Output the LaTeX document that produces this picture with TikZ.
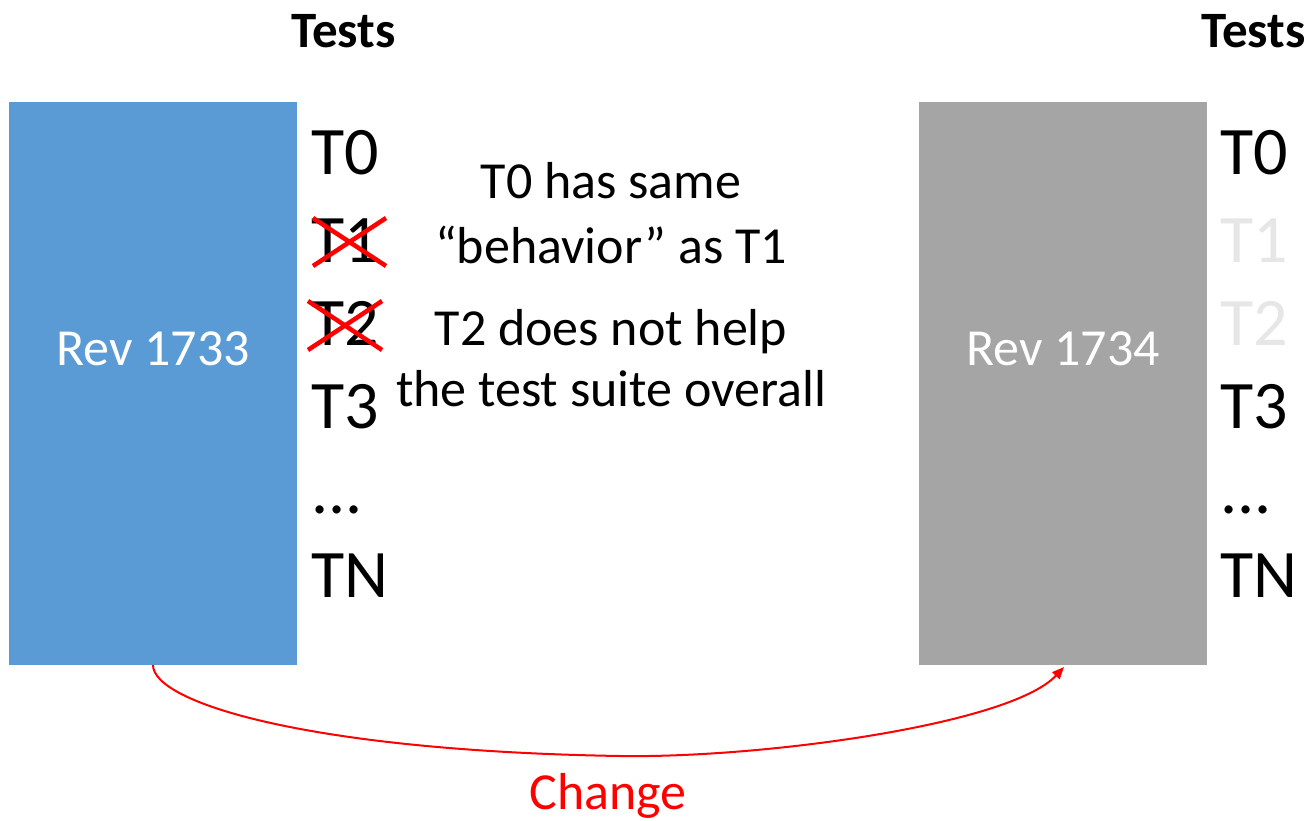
\documentclass[tikz,border=0pt]{standalone}
\usepackage{fontspec}
\setmainfont{Carlito}
\usetikzlibrary{arrows.meta}
\definecolor{revblue}{HTML}{5B9BD5}
\definecolor{revgray}{HTML}{A5A5A5}
\definecolor{faded}{HTML}{E7E6E6}
\tikzset{
  rev/.style={inner sep=0pt, minimum width=288pt, minimum height=563pt},
  revlabel/.style={anchor=base, inner sep=0pt, text=white, font=\fontsize{52}{60}\selectfont},
  testname/.style={anchor=base west, inner sep=0pt, font=\fontsize{68}{80}\selectfont},
  header/.style={anchor=base west, inner sep=0pt, font=\fontsize{51}{60}\selectfont\bfseries},
  note/.style={anchor=base, inner sep=0pt, font=\fontsize{52}{60}\selectfont},
  strike/.style={red, line width=4.5pt},
  change/.style={red, line width=2pt, -{Triangle[length=12pt,width=10pt]}}
}
\begin{document}
\begin{tikzpicture}[x=1pt,y=-1pt]
\useasboundingbox (0,0) rectangle (1314,821);

% revision boxes
\node[rev, fill=revblue] (r1) at (153,383.5) {};
\node[rev, fill=revgray] (r2) at (1063,383.5) {};
\node[revlabel] (l1) at (153,365) {Rev 1733};
\node[revlabel] (l2) at (1063,365) {Rev 1734};

% headers
\node[header] (h1) at (291,48) {Tests};
\node[header] (h2) at (1201,48) {Tests};

% tests beside the old revision
\node[testname] (a0) at (311,175) {T0};
\node[testname] (a1) at (311,262) {T1};
\node[testname] (a2) at (311,345) {T2};
\node[testname] (a3) at (311,428) {T3};
\node[testname] (a4) at (311,513) {...};
\node[testname] (a5) at (311,597) {TN};

% tests beside the new revision
\node[testname] (b0) at (1220,175) {T0};
\node[testname, text=faded] (b1) at (1220,262) {T1};
\node[testname, text=faded] (b2) at (1220,345) {T2};
\node[testname] (b3) at (1220,428) {T3};
\node[testname] (b4) at (1220,513) {...};
\node[testname] (b5) at (1220,597) {TN};

% crossed-out tests
\draw[strike] (313,218) -- (386,266);
\draw[strike] (313,266) -- (386,218);
\draw[strike] (308,301) -- (382,350);
\draw[strike] (308,350) -- (382,301);

% explanations
\node[note] (n1) at (611,199) {T0 has same};
\node[note] (n2) at (611,263) {“behavior” as T1};
\node[note] (n3) at (611,345) {T2 does not help};
\node[note] (n4) at (611,406) {the test suite overall};

% change arrow
\coordinate (s) at (153,665);
\coordinate (m) at (620,756);
\coordinate (e) at (1064,667);
\draw[change] (s) .. controls (153,703) and (310,751) .. (m)
                  .. controls (760,758.3) and (1010,725) .. (e);
\node[note, text=red] (c) at (608,809) {Change};
\end{tikzpicture}
\end{document}
